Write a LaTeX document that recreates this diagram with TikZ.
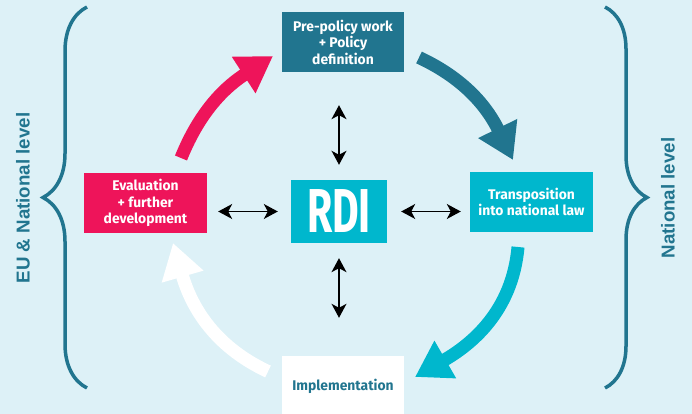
\documentclass[tikz,border=0pt]{standalone}
\usepackage{fontspec}
\setmainfont{Liberation Sans}
\newfontfamily\condfont[FakeStretch=0.99,BoldFont={Fira Sans Bold}]{Fira Sans}
\newfontfamily\rdifont[FakeStretch=0.66,BoldFont={Fira Sans Bold}]{Fira Sans}
\usetikzlibrary{arrows.meta,decorations.pathreplacing,calc}
\definecolor{bgblue}{RGB}{221,241,247}
\definecolor{darkteal}{RGB}{33,117,143}
\definecolor{cyanbox}{RGB}{0,183,205}
\definecolor{pinkbox}{RGB}{238,20,90}

\begin{document}
\begin{tikzpicture}[x=1pt,y=1pt,
    stage/.style={rectangle,minimum width=122pt,minimum height=60pt,inner sep=0pt,
      align=center,text=white,font=\condfont\bfseries\fontsize{14}{16.5}\selectfont},
    cycarrow/.style={line width=13pt,-{Triangle[length=35pt,width=41pt]}},
    link/.style={line width=1.3pt,{Stealth[length=14pt,width=15pt,inset=4pt]}-{Stealth[length=14pt,width=15pt,inset=4pt]}},
    level/.style={rotate=90,text=darkteal,font=\bfseries\fontsize{18.7}{20}\selectfont},
    curly/.style={line width=3.5pt,draw=darkteal,decorate}]
\useasboundingbox[fill=bgblue] (0,0) rectangle (692,414);

\node[stage,fill=darkteal] (policy) at (343,372) {Pre-policy work\\+ Policy\\definition};
\node[stage,fill=pinkbox,minimum width=123pt] (eval) at (145.5,211) {Evaluation\\+ further\\development};
\node[stage,fill=cyanbox,minimum width=123pt] (transp) at (531.5,212) {Transposition\\into national law};
\node[stage,fill=white,text=darkteal] (impl) at (343,28) {Implementation};
\node[rectangle,fill=cyanbox,minimum width=96pt,minimum height=63pt,inner sep=0pt,text=white,
  font=\rdifont\bfseries\fontsize{62}{62}\selectfont] (rdi) at (339,202.5) {RDI};

\draw[link,shorten <=13pt,shorten >=11pt] (rdi.west) -- (rdi.west -| eval.east);
\draw[link,shorten <=14pt,shorten >=9pt] (rdi.east) -- (rdi.east -| transp.west);
\draw[link,shorten <=15pt,shorten >=33pt] (rdi.north) -- (rdi.north |- policy.south);
\draw[link,shorten <=15pt,shorten >=38pt] (rdi.south) -- (rdi.south |- impl.north);

\coordinate (evalout) at (181,256);
\coordinate (policyin) at (273,358);
\coordinate (policyout) at (419,356.5);
\coordinate (transpin) at (513,254);
\coordinate (transpout) at (518,167);
\coordinate (implin) at (415,37);
\coordinate (implout) at (268,42.5);
\coordinate (evalin) at (173,171);

\draw[cycarrow,pinkbox] (evalout) to[out=68,in=213] (policyin);
\draw[cycarrow,darkteal] (policyout) to[out=-25,in=116] (transpin);
\draw[cycarrow,cyanbox] (transpout) to[out=-95,in=30] (implin);
\draw[cycarrow,white] (implout) to[out=155,in=286] (evalin);

\draw[curly,decoration={brace,amplitude=44pt}] (87,26) -- (87,407);
\draw[curly,decoration={brace,amplitude=42pt}] (605,407) -- (605,26);

\node[level] (eulevel) at (23,216) {EU \& National level};
\node[level] (natlevel) at (668,216) {National level};
\end{tikzpicture}
\end{document}
